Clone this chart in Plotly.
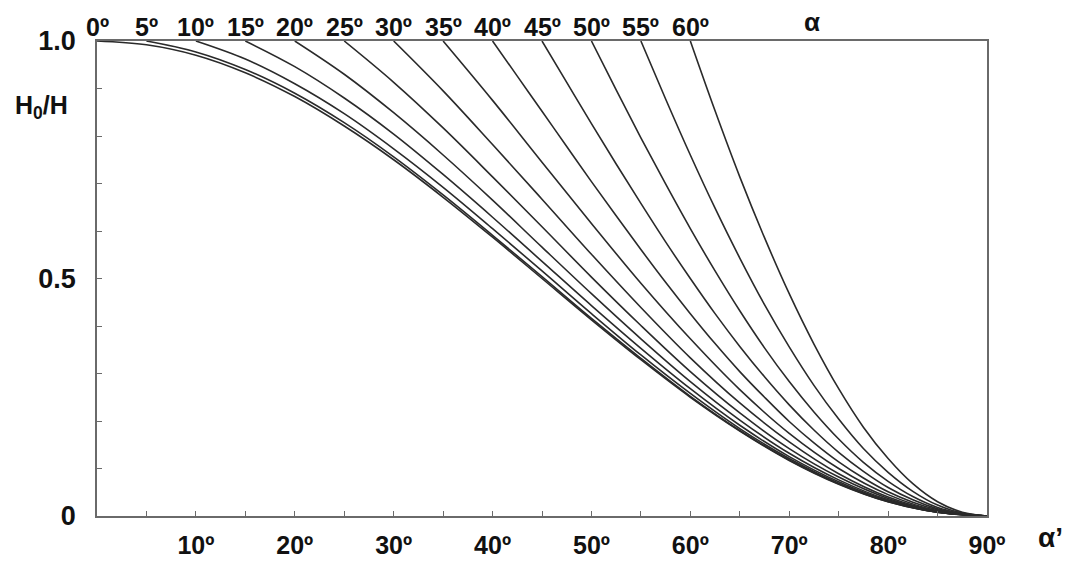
import plotly.graph_objects as go

# ---- data ----
alpha_deg = [0, 5, 10, 15, 20, 25, 30, 35, 40, 45, 50, 55, 60]
alpha_prime = [0, 5, 10, 15, 20, 25, 30, 35, 40, 45, 50, 55, 60, 65, 70, 75, 80, 85, 90]
alpha_prime_fine = [40, 42.5, 45, 47.5, 50, 52.5, 55, 57.5, 60, 62.5, 65, 67.5, 70,
                    72.5, 75, 77.5, 80, 82.5, 85, 87.5, 90]

h_0 = [1.0, 0.992, 0.970, 0.933, 0.883, 0.821, 0.750, 0.671, 0.587, 0.500, 0.413, 0.329, 0.250, 0.179, 0.117, 0.067, 0.030, 0.008, 0.0]
h_5 = [1.0, 0.977, 0.940, 0.890, 0.828, 0.756, 0.676, 0.591, 0.504, 0.416, 0.332, 0.252, 0.180, 0.118, 0.068, 0.030, 0.008, 0.0]
h_10 = [1.0, 0.962, 0.910, 0.847, 0.773, 0.692, 0.605, 0.516, 0.426, 0.339, 0.258, 0.184, 0.121, 0.069, 0.031, 0.008, 0.0]
h_15 = [1.0, 0.946, 0.880, 0.804, 0.719, 0.629, 0.536, 0.443, 0.353, 0.268, 0.191, 0.125, 0.072, 0.032, 0.008, 0.0]
h_20 = [1.0, 0.930, 0.849, 0.760, 0.665, 0.566, 0.468, 0.373, 0.283, 0.202, 0.132, 0.076, 0.034, 0.009, 0.0]
h_25 = [1.0, 0.913, 0.817, 0.714, 0.609, 0.503, 0.401, 0.304, 0.217, 0.142, 0.082, 0.037, 0.009, 0.0]
h_30 = [1.0, 0.895, 0.782, 0.667, 0.551, 0.439, 0.333, 0.238, 0.156, 0.089, 0.040, 0.010, 0.0]
h_35 = [1.0, 0.875, 0.745, 0.616, 0.490, 0.373, 0.266, 0.174, 0.100, 0.045, 0.011, 0.0]
# steeper curves, read every 2.5 degrees
h_40 = [1.0, 0.926, 0.852, 0.778, 0.704, 0.632, 0.561, 0.492, 0.426, 0.363, 0.304, 0.250, 0.199, 0.154, 0.114, 0.080, 0.051, 0.029, 0.013, 0.003, 0.0]
h_45 = [1.0, 0.913, 0.826, 0.741, 0.658, 0.577, 0.500, 0.426, 0.357, 0.293, 0.234, 0.181, 0.134, 0.094, 0.060, 0.034, 0.015, 0.004, 0.0]
h_50 = [1.0, 0.897, 0.796, 0.699, 0.605, 0.516, 0.432, 0.354, 0.283, 0.219, 0.162, 0.113, 0.073, 0.041, 0.018, 0.005, 0.0]
h_55 = [1.0, 0.878, 0.760, 0.648, 0.543, 0.445, 0.356, 0.275, 0.204, 0.142, 0.092, 0.052, 0.023, 0.006, 0.0]
h_60 = [1.0, 0.853, 0.714, 0.586, 0.468, 0.362, 0.268, 0.187, 0.121, 0.068, 0.030, 0.008, 0.0]

curves = [h_0, h_5, h_10, h_15, h_20, h_25, h_30, h_35, h_40, h_45, h_50, h_55, h_60]

x_tick_vals = [10, 20, 30, 40, 50, 60, 70, 80, 90]
x_tick_text = ["10º", "20º", "30º", "40º", "50º", "60º", "70º", "80º", "90º"]
y_tick_vals = [0, 0.5, 1.0]
y_tick_text = ["0", "0.5", "1.0"]

FONT = "Arial, Liberation Sans, Helvetica, sans-serif"
LINE = "#2a2a2a"
AXIS = "#6a6a6a"

fig = go.Figure()
for a, ys in zip(alpha_deg, curves):
    grid = alpha_prime_fine if a >= 40 else alpha_prime
    xs = grid[grid.index(a):]
    fig.add_trace(go.Scatter(
        x=xs, y=ys, mode="lines",
        line=dict(color=LINE, width=1.6, shape="spline", smoothing=1.0),
        hoverinfo="skip", showlegend=False,
    ))

annotations = []
for a in alpha_deg:
    annotations.append(dict(
        x=a, y=1.03, xref="x", yref="paper", text=f"{a}º",
        showarrow=False, xanchor="center", yanchor="middle",
        font=dict(family=FONT, size=25, color="#111", weight="bold"),
    ))
annotations.append(dict(
    x=0.803, y=1.04, xref="paper", yref="paper", text="α",
    showarrow=False, xanchor="center", yanchor="middle",
    font=dict(family=FONT, size=26, color="#111", weight="bold"),
))
annotations.append(dict(
    x=1.071, y=-0.045, xref="paper", yref="paper", text="α’",
    showarrow=False, xanchor="center", yanchor="middle",
    font=dict(family=FONT, size=28, color="#111", weight="bold"),
))
annotations.append(dict(
    x=-0.062, y=0.862, xref="paper", yref="paper", text="H<sub>0</sub>/H",
    showarrow=False, xanchor="center", yanchor="middle",
    font=dict(family=FONT, size=25, color="#111", weight="bold"),
))

fig.update_layout(
    width=1079, height=571,
    margin=dict(l=97, r=92, t=41, b=40),
    paper_bgcolor="white", plot_bgcolor="white",
    showlegend=False,
    annotations=annotations,
    xaxis=dict(
        range=[0, 90], showgrid=False, zeroline=False,
        showline=True, linecolor=AXIS, linewidth=1.5, mirror=True,
        tickvals=x_tick_vals, ticktext=x_tick_text,
        ticks="inside", ticklen=5, tickcolor=AXIS, tickwidth=1,
        minor=dict(dtick=5, ticks="inside", ticklen=5, tickcolor=AXIS, showgrid=False),
        tickfont=dict(family=FONT, size=25, color="#111", weight="bold"),
        ticklabelstandoff=6,
    ),
    yaxis=dict(
        range=[0, 1.0], showgrid=False, zeroline=False,
        showline=True, linecolor=AXIS, linewidth=1.5, mirror=True,
        tickvals=y_tick_vals, ticktext=y_tick_text,
        ticks="inside", ticklen=5, tickcolor=AXIS, tickwidth=1,
        minor=dict(dtick=0.1, ticks="inside", ticklen=5, tickcolor=AXIS, showgrid=False),
        tickfont=dict(family=FONT, size=27, color="#111", weight="bold"),
        ticklabelstandoff=14,
    ),
)

fig.write_html("out.html")
